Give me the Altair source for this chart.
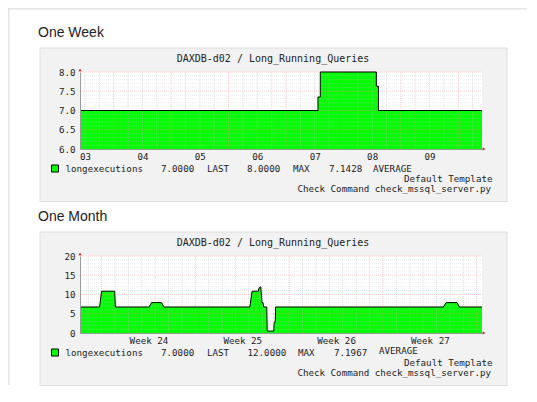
import altair as alt
import pandas as pd

# ---------------- data ----------------
TITLE = "DAXDB-d02 / Long_Running_Queries"

# One Week (x = day of month, fractional)
week_days = [3.413, 7.557, 7.597, 8.573, 8.610, 10.413]
week_vals = [7.0, 7.35, 8.0, 7.63, 7.0, 7.0]
week_x_domain = [3.413, 10.413]
week_y_domain = [6.0, 8.0]
week_x_label_pos = [3.5, 4.5, 5.5, 6.5, 7.5, 8.5, 9.5]
week_x_labels = ["03", "04", "05", "06", "07", "08", "09"]
week_y_ticks = [6.0, 6.5, 7.0, 7.5, 8.0]
week_x_major = [4, 5, 6, 7, 8, 9, 10]
week_x_minor = [3.5, 3.75, 4.25, 4.5, 4.75, 5.25, 5.5, 5.75, 6.25, 6.5, 6.75,
                7.25, 7.5, 7.75, 8.25, 8.5, 8.75, 9.25, 9.5, 9.75, 10.25]
week_y_major = [6.5, 7.0, 7.5, 8.0]
week_y_minor = [6.1, 6.2, 6.3, 6.4, 6.6, 6.7, 6.8, 6.9, 7.1, 7.2, 7.3, 7.4,
                7.6, 7.7, 7.8, 7.9]
week_legend = ["longexecutions", "7.0000", "LAST", "8.0000", "MAX", "7.1428", "AVERAGE"]

# One Month (x = days since start of week 24)
month_days = [-1.61, -0.15, -0.12, 0.0, 0.98, 1.03, 3.55, 3.73, 4.48, 4.65,
              11.06, 11.10, 11.23, 11.70, 11.75, 11.88, 11.97, 12.05, 12.10,
              12.33, 12.36, 12.85, 12.88, 12.96, 12.99, 25.51, 25.71, 26.53,
              26.71, 28.39]
month_vals = [6.75, 6.75, 7.6, 10.85, 10.85, 6.75, 6.75, 7.9, 7.9, 6.75,
              6.75, 7.6, 10.85, 10.85, 11.7, 12.0, 7.9, 7.9, 6.75,
              6.75, 0.5, 0.5, 2.8, 2.8, 6.75, 6.75, 7.9, 7.9,
              6.75, 6.75]
month_x_domain = [-1.61, 28.39]
month_y_domain = [0, 20]
month_x_label_pos = [3.5, 10.5, 17.5, 24.5]
month_x_labels = ["Week 24", "Week 25", "Week 26", "Week 27"]
month_y_ticks = [0, 5, 10, 15, 20]
month_x_major = [0, 7, 14, 21, 28]
month_x_minor = [-1, 1, 2, 3, 4, 5, 6, 8, 9, 10, 11, 12, 13, 15, 16, 17, 18,
                 19, 20, 22, 23, 24, 25, 26, 27]
month_y_major = [5, 10, 15, 20]
month_y_minor = [1, 2, 3, 4, 6, 7, 8, 9, 11, 12, 13, 14, 16, 17, 18, 19]
month_legend = ["longexecutions", "7.0000", "LAST", "12.0000", "MAX", "7.1967", "AVERAGE"]

FOOT1 = "Default Template"
FOOT2 = "Check Command check_mssql_server.py"

# ---------------- styling ----------------
W, H = 402, 77
MONO = "DejaVu Sans Mono"
SANS = "Liberation Sans"
TXT = "#222222"
ONE = pd.DataFrame({"k": [0]})


def txt(s, x, y, align="left", size=9.2, font=MONO, baseline="middle", dy=0):
    return alt.Chart(ONE).mark_text(
        text=s, align=align, baseline=baseline, font=font, fontSize=size,
        color=TXT, dy=dy
    ).encode(x=alt.value(x), y=alt.value(y))


def panel(heading, days, vals, interp, xdom, ydom, xlab_pos, xlab_txt, yticks,
          yfmt, xmaj, xmin, ymaj, ymin, legend, leg_x, avg_dy, page_border):
    series = pd.DataFrame({"day": days, "v": vals})
    xs = alt.Scale(domain=xdom, nice=False, zero=False)
    ys = alt.Scale(domain=ydom, nice=False, zero=False)
    pos = "[" + ",".join(str(p) for p in xlab_pos) + "]"
    labs = "[" + ",".join("'%s'" % t for t in xlab_txt) + "]"
    lab_expr = labs + "[indexof(" + pos + ", datum.value)]"

    layers = []
    if page_border:
        layers.append(alt.Chart(ONE).mark_rect(fill="#e6e6e6").encode(
            x=alt.value(-72), x2=alt.value(447), y=alt.value(-64), y2=alt.value(-62.5)))
        layers.append(alt.Chart(ONE).mark_rect(fill="#e6e6e6").encode(
            x=alt.value(-72), x2=alt.value(-70.5), y=alt.value(-64), y2=alt.value(313)))
    layers.append(alt.Chart(ONE).mark_rect(fill="#f2f2f2", stroke="#dddddd", strokeWidth=1).encode(
        x=alt.value(-40), x2=alt.value(427), y=alt.value(-24), y2=alt.value(129.5)))
    layers.append(alt.Chart(ONE).mark_rect(fill="white").encode(
        x=alt.value(0), x2=alt.value(W), y=alt.value(0), y2=alt.value(H)))

    area = alt.Chart(series).mark_area(color="#00ff00", interpolate=interp, opacity=1).encode(
        x=alt.X("day:Q", scale=xs, axis=alt.Axis(
            orient="bottom", values=xlab_pos, labelExpr=lab_expr, grid=False, ticks=False,
            domainColor="#9a9a9a", title=None, labelFont=MONO, labelFontSize=9.2,
            labelColor=TXT, labelPadding=3, zindex=2, labelOverlap=False,
            labelFlush=False, labelAngle=0)),
        y=alt.Y("v:Q", scale=ys, axis=alt.Axis(
            orient="left", values=yticks, format=yfmt, grid=False, ticks=False,
            domainColor="#9a9a9a", title=None, labelFont=MONO, labelFontSize=9.2,
            labelColor=TXT, labelPadding=5, zindex=2, labelOverlap=False,
            labelFlush=False)),
        y2=alt.datum(ydom[0]),
    )
    layers.append(area)

    def vrules(v, color, op):
        return alt.Chart(pd.DataFrame({"g": v})).mark_rule(
            color=color, strokeWidth=1, strokeDash=[1, 1], opacity=op
        ).encode(x=alt.X("g:Q", scale=xs, axis=None), y=alt.value(0), y2=alt.value(H))

    def hrules(v, color, op):
        return alt.Chart(pd.DataFrame({"g": v})).mark_rule(
            color=color, strokeWidth=1, strokeDash=[1, 1], opacity=op
        ).encode(y=alt.Y("g:Q", scale=ys, axis=None), x=alt.value(0), x2=alt.value(W))

    layers += [vrules(xmin, "#b8b8b8", 0.45), hrules(ymin, "#c8c8c8", 0.3),
               vrules(xmaj, "#ff8080", 0.45), hrules(ymaj, "#ff9090", 0.4)]

    layers.append(alt.Chart(series).mark_line(color="black", strokeWidth=1, interpolate=interp).encode(
        x=alt.X("day:Q", scale=xs, axis=None), y=alt.Y("v:Q", scale=ys, axis=None)))

    # axis arrows
    layers.append(alt.Chart(pd.DataFrame({"x": [xdom[0]], "y": [ydom[1]]})).mark_point(
        shape="triangle-up", filled=True, color="#b02020", size=10, opacity=1, yOffset=-2
    ).encode(x=alt.X("x:Q", scale=xs, axis=None), y=alt.Y("y:Q", scale=ys, axis=None)))
    layers.append(alt.Chart(pd.DataFrame({"x": [xdom[1]], "y": [ydom[0]]})).mark_point(
        shape="triangle-right", filled=True, color="#b02020", size=10, opacity=1, xOffset=2
    ).encode(x=alt.X("x:Q", scale=xs, axis=None), y=alt.Y("y:Q", scale=ys, axis=None)))

    # texts
    layers.append(txt(heading, -42, -35, font=SANS, size=14, baseline="alphabetic"))
    layers.append(txt(TITLE, 193, -13.5, align="center", size=10))
    layers.append(alt.Chart(ONE).mark_rect(fill="#00ff00", stroke="black", strokeWidth=1).encode(
        x=alt.value(-28.5), x2=alt.value(-21.5), y=alt.value(93), y2=alt.value(100)))
    for i, (s, lx) in enumerate(zip(legend, leg_x)):
        layers.append(txt(s, lx, 96.5, dy=(avg_dy if i == len(legend) - 1 else 0)))
    layers.append(txt(FOOT1, 412.5, 106.5, align="right"))
    layers.append(txt(FOOT2, 411, 117, align="right"))

    return alt.layer(*layers).resolve_axis(x="independent", y="independent").properties(
        width=W, height=H)


week = panel("One Week", week_days, week_vals, "step-after", week_x_domain, week_y_domain,
             week_x_label_pos, week_x_labels, week_y_ticks, ".1f", week_x_major,
             week_x_minor, week_y_major, week_y_minor, week_legend,
             [-14.5, 81, 127, 167, 213, 249, 293], 0, True)
month = panel("One Month", month_days, month_vals, "linear", month_x_domain, month_y_domain,
              month_x_label_pos, month_x_labels, month_y_ticks, "d", month_x_major,
              month_x_minor, month_y_major, month_y_minor, month_legend,
              [-14.5, 81, 127, 167.5, 218, 254, 299], -1.5, False)

chart = alt.vconcat(week, month, spacing=107, bounds="flush").properties(
    padding=0
).configure_view(stroke=None)

chart.save("out.html", embed_options={"renderer": "svg", "actions": False})
